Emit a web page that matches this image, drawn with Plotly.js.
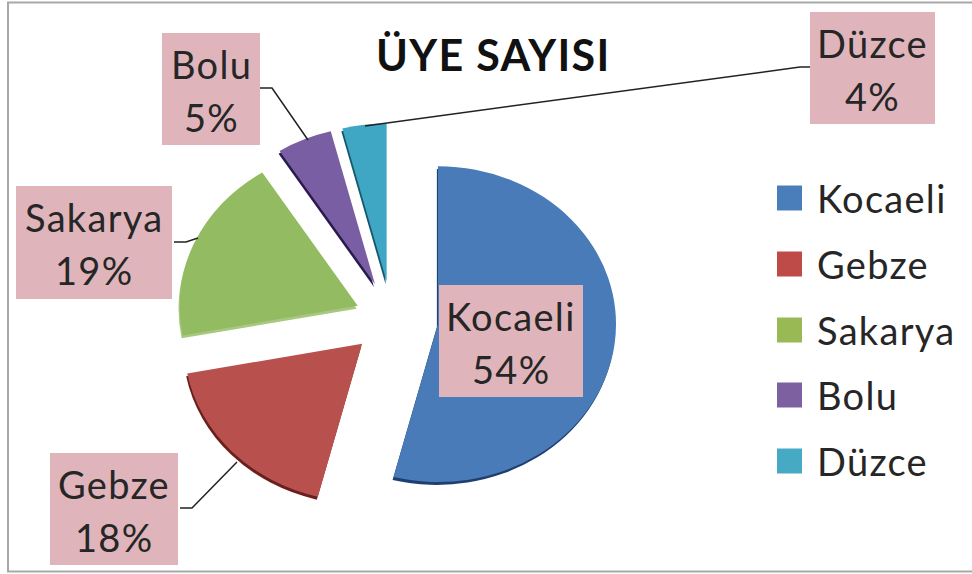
<!DOCTYPE html>
<html><head><meta charset="utf-8">
<script src="https://cdn.plot.ly/plotly-3.0.1.min.js"></script>
<style>html,body{margin:0;padding:0;background:#fff}#c{width:972px;height:574px}
.annotation-text{letter-spacing:1.3px}
.pielayer{transform-origin:392px 319px;transform:scale(1.06,.94)}
</style>
</head><body><div id="c"></div>
<script>
const categories = ["Kocaeli","Gebze","Sakarya","Bolu","Düzce"];
const values = [54,18,19,5,4];
const faceColors = ["#4a7bb9","#b8514d","#93bb62","#7a5ea3","#3fa7c4"];
const rimColors = ["#1f3f70","#6b1f1c","#a8c880","#2a1a50","#14586c"];
const legendColors = ["#4a7ebb","#be4b48","#98b954","#7d60a0","#46aac5"];
const pulls = [0.26,0.23,0.21,0.24,0.24];
const legendY = [198,264,330,395,461];
const boxes = [[439,285,583,397],[50,453,178,565],[16,186,172,299],[162,33,260,145],[810,12,935,124]];
const leaders = ["M174,242 L186,242 L198,238","M260,88 L272,88 L308,140","M810,67 L800,67 L365,126","M180,508 L192,508 L237,462"];

const W=972,H=574, TXT="#262626", FONT="Lato, 'Open Sans', sans-serif";
const px=x=>x/W, py=y=>1-y/H;
const R=168, maxPull=Math.max(...pulls), half=R*(1+maxPull);
const dom=(cx,cy)=>({x:[px(cx-half),px(cx+half)],y:[py(cy+half),py(cy-half)]});
const pie=(colors,d)=>({type:"pie",labels:categories,values:values,sort:false,direction:"clockwise",rotation:0,
  pull:pulls,domain:d,textinfo:"none",hoverinfo:"label+percent",showlegend:false,
  marker:{colors:colors,line:{width:0}}});

const shapes=[{type:"rect",xref:"paper",yref:"paper",x0:px(8),x1:px(975),y0:py(2.5),y1:py(571.5),line:{color:"#a8a8a8",width:2},fillcolor:"rgba(0,0,0,0)",layer:"below"}];
const annotations=[{xref:"paper",yref:"paper",x:px(494),y:py(54),text:"<b>ÜYE SAYISI</b>",showarrow:false,xanchor:"center",yanchor:"middle",font:{family:FONT,size:43,color:"#111"}}];
boxes.forEach((b,i)=>{
  shapes.push({type:"rect",xref:"paper",yref:"paper",x0:px(b[0]),x1:px(b[2]),y0:py(b[1]),y1:py(b[3]),fillcolor:"#dfb5bb",line:{width:0},layer:"above"});
  const mx=(b[0]+b[2])/2;
  annotations.push({xref:"paper",yref:"paper",x:px(mx),y:py(b[1]+31),text:categories[i],showarrow:false,xanchor:"center",yanchor:"middle",font:{family:FONT,size:38,color:TXT}});
  annotations.push({xref:"paper",yref:"paper",x:px(mx),y:py(b[1]+84),text:values[i]+"%",showarrow:false,xanchor:"center",yanchor:"middle",font:{family:FONT,size:38,color:TXT}});
});
leaders.forEach(p=>{
  const m=p.match(/[\d.]+/g).map(Number); let s="";
  for(let i=0;i<m.length;i+=2) s+=(i?"L":"M")+px(m[i])+","+py(m[i+1])+" ";
  shapes.push({type:"path",xref:"paper",yref:"paper",path:s,line:{color:"#222",width:1.5},layer:"above"});
});
categories.forEach((c,i)=>{
  const y=legendY[i];
  shapes.push({type:"rect",xref:"paper",yref:"paper",x0:px(777),x1:px(802),y0:py(y-12.5),y1:py(y+12.5),fillcolor:legendColors[i],line:{width:0}});
  annotations.push({xref:"paper",yref:"paper",x:px(815),y:py(y),text:c,showarrow:false,xanchor:"left",yanchor:"middle",font:{family:FONT,size:38,color:TXT}});
});

Plotly.newPlot("c",[pie(rimColors,dom(391,322)),pie(faceColors,dom(392,319))],{
  width:W,height:H,margin:{l:0,r:0,t:0,b:0},paper_bgcolor:"#fff",showlegend:false,shapes,annotations
},{displayModeBar:false,staticPlot:true});
</script></body></html>
